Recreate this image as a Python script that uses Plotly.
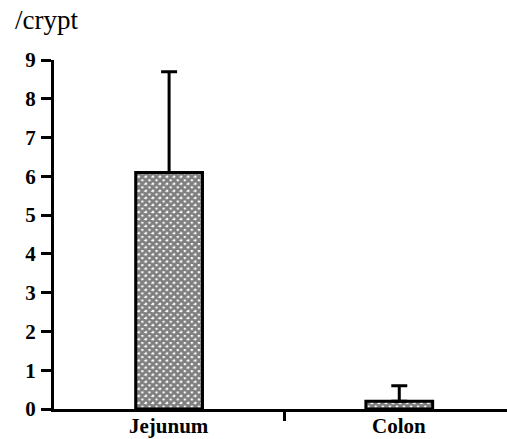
import plotly.graph_objects as go

categories = ["Jejunum", "Colon"]
means = [6.1, 0.2]
sem = [2.6, 0.4]
y_ticks = [0, 1, 2, 3, 4, 5, 6, 7, 8, 9]
y_title = "/crypt"

xpos = list(range(len(categories)))

fig = go.Figure()
fig.add_trace(go.Bar(
    x=xpos, y=means, width=0.29,
    marker=dict(color="white", line=dict(color="black", width=3),
                pattern=dict(shape="x", fgcolor="black", bgcolor="white", size=5, solidity=0.8)),
    error_y=dict(type="data", symmetric=False, array=sem, arrayminus=[0] * len(sem),
                 color="black", thickness=3, width=8),
))

font_serif = "Liberation Serif, Times New Roman, serif"
H, B = 439, 30
annotations = [dict(text=y_title, xref="paper", xanchor="left", x=-0.09,
                    yref="paper", y=1.065, yanchor="bottom", showarrow=False,
                    font=dict(size=27, family=font_serif))]
for xp, c in zip(xpos, categories):
    annotations.append(dict(text=f"<b>{c}</b>", x=xp, xref="x", xanchor="center",
                            y=-(B - 0.5) / (H - 60 - B), yref="paper", yanchor="bottom",
                            showarrow=False, borderpad=0, font=dict(size=21, family=font_serif)))

fig.update_layout(
    width=507, height=H,
    margin=dict(l=54, r=0, t=60, b=B),
    paper_bgcolor="white", plot_bgcolor="white",
    showlegend=False,
    font=dict(family=font_serif, color="black"),
    xaxis=dict(range=[-0.5, 1.468], tickvals=xpos, showticklabels=False,
               ticks="", showline=True, linecolor="black", linewidth=3, showgrid=False, zeroline=False,
               automargin=False,
               minor=dict(tickvals=[0.5], ticks="outside", ticklen=9, tickwidth=3, tickcolor="black", showgrid=False)),
    yaxis=dict(range=[0, 9], tickvals=y_ticks, ticktext=[f"<b>{v}</b>" for v in y_ticks],
               ticks="outside", ticklen=10, tickwidth=3, tickcolor="black", automargin=False,
               showline=True, linecolor="black", linewidth=3, showgrid=False, zeroline=False,
               tickfont=dict(size=21, family=font_serif), ticklabelstandoff=1),
    annotations=annotations,
)
fig.write_html("out.html", config={"displayModeBar": False},
               post_script="document.body.style.margin='0';document.body.style.overflow='hidden';")
